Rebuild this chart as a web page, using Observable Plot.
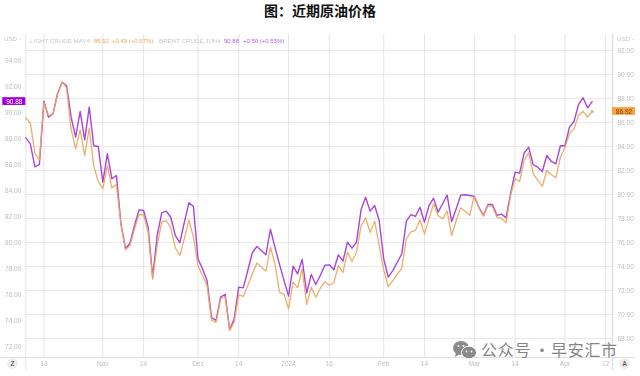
<!DOCTYPE html>
<html><head><meta charset="utf-8">
<script src="https://cdn.jsdelivr.net/npm/d3@7"></script>
<script src="https://cdn.jsdelivr.net/npm/@observablehq/plot@0.6"></script>
<style>
html,body{margin:0;padding:0;background:#fff;width:640px;height:376px;overflow:hidden;position:relative}
#title{height:34px;text-align:center;font:700 14px/21px "Noto Sans CJK SC",sans-serif;color:#111}
#chart svg{filter:blur(.35px)}
.lg{position:absolute;top:37px;font:6.2px/8px "Liberation Sans",sans-serif;white-space:nowrap;color:#c8c8c8;filter:blur(.3px)}
.num{font-size:6px}
.wm{position:absolute;top:341px;font:16px/16px "Noto Sans CJK SC",sans-serif;color:#858585;letter-spacing:.7px;white-space:nowrap;text-shadow:0 0 2px #fff}
#icon{position:absolute;left:452px;top:340px}
.chip{position:absolute;top:358px;width:11px;height:11px;border-radius:50%;background:#eeeeee;font:700 6.5px/11px "Liberation Sans",sans-serif;color:#666;text-align:center}
svg{display:block}
</style></head><body>
<div id="title">图：近期原油价格</div>
<div id="chart"></div>
<span class="lg" style="left:30px">LIGHT CRUDE MAY4</span>
<span class="lg num" style="left:94px;color:#eda65c">86.92</span>
<span class="lg num" style="left:112px;color:#eda65c">+0.49 (+0.57%)</span>
<span class="lg" style="left:159px">BRENT CRUDE JUN4</span>
<span class="lg num" style="left:224px;color:#b25fe0">90.88</span>
<span class="lg num" style="left:243px;color:#b25fe0">+0.50 (+0.55%)</span>
<span class="lg" style="left:4px;top:35px;color:#c4c4c4">USD -</span>
<span class="lg" style="left:617px;top:35px;color:#c4c4c4">USD -</span>
<div class="chip" style="left:7px">Z</div>
<div class="chip" style="left:619px">A</div>
<svg id="icon" width="26" height="20" viewBox="0 0 26 20"><ellipse cx="9" cy="8" rx="8" ry="7" fill="#8a8a8a"/><path d="M4 12l-1 5 5-3z" fill="#8a8a8a"/><ellipse cx="17" cy="12.5" rx="7.5" ry="6.3" fill="#8a8a8a" stroke="#fff"/><circle cx="6.5" cy="6" r="1" fill="#fff"/><circle cx="11.5" cy="6" r="1" fill="#fff"/><circle cx="14.5" cy="11.5" r=".9" fill="#fff"/><circle cx="19.5" cy="11.5" r=".9" fill="#fff"/></svg>
<div class="wm" style="left:481px">公众号</div>
<div class="wm" style="left:534px">·</div>
<div class="wm" style="left:551px">早安汇市</div>
<script>
const brent = [88.09,87.63,85.86,86.04,90.91,89.68,89.94,91.48,92.37,92.12,89.68,88.14,90.12,87.94,90.45,87.48,87.42,84.68,86.86,84.94,85.19,81.5,79.58,79.98,81.35,82.55,82.5,81.22,77.37,80.58,82.32,82.45,81.98,80.58,80.02,81.6,83.09,82.83,78.78,78.02,77.12,74.25,74.04,75.83,76.04,73.32,74.17,76.6,76.55,77.88,79.25,79.73,79.42,79.09,81.04,79.68,78.35,77.12,75.91,78.22,77.63,78.75,76.14,77.58,76.81,77.5,78.29,78.32,77.94,79.09,78.6,80.06,79.6,80.06,82.55,83.52,82.45,82.88,81.73,78.78,77.37,77.88,78.52,79.17,81.68,82.19,82.04,82.75,81.6,82.88,83.45,82.37,83.02,83.68,81.65,82.63,83.68,83.71,83.65,83.58,82.75,82.12,82.96,82.96,82.12,82.22,81.94,83.78,85.45,85.37,86.91,87.37,86.02,85.83,85.5,86.73,86.27,86.09,87.48,87.48,88.91,89.35,90.65,91.17,90.4,90.88];
const wti = [86.39,85.97,83.44,82.89,87.69,86.58,86.67,88.33,89.36,88.89,85.47,83.81,85.39,83.25,85.52,82.36,81.08,80.47,82.42,80.56,80.83,77.5,75.39,75.75,77.14,78.31,78.31,76.86,72.94,75.75,77.69,77.83,77.22,75.56,74.92,76.31,77.89,76.44,74.08,73.25,72.42,69.5,69.36,71.31,71.44,68.67,69.36,71.64,71.5,72.42,73.39,74.28,73.94,73.61,75.61,74.22,71.86,71.67,70.47,72.69,72.22,73.81,70.83,72.28,71.44,72.19,72.72,72.44,72.67,74.08,73.5,75.19,74.42,75.19,77.36,78.06,76.83,77.78,75.75,73.72,72.33,72.83,73.33,73.89,76.31,76.89,77,77.89,76.72,77.97,79.22,78.25,77.97,78.61,76.58,77.83,78.89,78.58,78.27,79.92,78.89,78.19,79.08,79,78.11,78,77.64,79.92,81.31,81.08,82.83,83.47,81.72,81.17,80.69,82,81.64,81.39,83.11,83.89,85.11,85.47,86.58,86.94,86.44,86.92];
const xTickDays = [4,17,26,38,47,58,67,79,88,99,108,119,128];
const xTickLabels = ["13","Nov","14","Dec","14","2024","16","Feb","14","Mar","14","Apr","12"];
const leftTicks = [72,74,76,78,80,82,84,86,88,90,92,94];
const rightTicks = [68,70,72,74,76,78,80,82,84,86,88,90,92];
const xDomain = [0,129.5], yDomain = [71.19,96.04];
const toLeft = w => 94 - (12*(92-w) - 10.5)/13;
const grey = "#bcbcbc", grid = "#e8e8ee";
const days = brent.map((_,i)=>i);
const lastB = brent[brent.length-1], lastW = wti[wti.length-1];
const plot = Plot.plot({
  width:640, height:342, marginLeft:25.3, marginRight:28, marginTop:0, marginBottom:19,
  style:{background:"#fff",fontFamily:"Liberation Sans, sans-serif"},
  x:{domain:xDomain,axis:null}, y:{domain:yDomain,axis:null},
  marks:[
    Plot.ruleY(rightTicks,{y:toLeft,stroke:grid,strokeWidth:1}),
    Plot.ruleX(xTickDays,{stroke:"#e4e4ea",strokeWidth:1}),
    Plot.ruleY([yDomain[0]],{stroke:"#e0e0e0",strokeWidth:1.2,insetLeft:-25,insetRight:-23}),
    Plot.ruleX([xDomain[0]],{stroke:"#e4e4ea",strokeWidth:1,insetBottom:-13}),
    Plot.ruleX([xDomain[1]],{stroke:"#e0e0e4",strokeWidth:1.5,insetBottom:-13}),
    Plot.axisY(leftTicks,{anchor:"left",tickSize:0,tickPadding:4.5,fontSize:6.5,color:grey,label:null,tickFormat:d=>d.toFixed(2)}),
    Plot.axisY(rightTicks,{anchor:"right",y:toLeft,tickSize:0,tickPadding:5,fontSize:6.5,color:grey,label:null,tickFormat:d=>d.toFixed(2)}),
    Plot.axisX(xTickDays,{tickSize:0,tickPadding:3.5,fontSize:6.5,color:grey,label:null,tickFormat:d=>xTickLabels[xTickDays.indexOf(d)]}),
    Plot.line(days,{x:d=>d,y:d=>brent[d],stroke:"#a845dc",strokeWidth:1.4}),
    Plot.line(days,{x:d=>d,y:d=>toLeft(wti[d]),stroke:"#eda65c",strokeWidth:1.3,strokeOpacity:0.92}),
    Plot.dot([days[days.length-1]],{x:d=>d,y:d=>toLeft(wti[d]),r:1.5,fill:"#eda65c"}),
    Plot.rect([lastB],{x1:()=>xDomain[0],x2:()=>xDomain[0],y1:d=>d-0.3,y2:d=>d+0.3,insetLeft:-23,fill:"#a000e0"}),
    Plot.text([lastB],{x:()=>xDomain[0],y:d=>d,dx:-11.5,text:d=>d.toFixed(2),fill:"#fff",fontSize:6.5}),
    Plot.rect([lastW],{x1:()=>xDomain[1],x2:()=>xDomain[1],y1:d=>toLeft(d)-0.3,y2:d=>toLeft(d)+0.3,insetRight:-23,fill:"#f9a33f"}),
    Plot.text([lastW],{x:()=>xDomain[1],y:d=>toLeft(d),dx:11.5,text:d=>d.toFixed(2),fill:"#6d4410",fontSize:6.5})
  ]
});
document.getElementById("chart").appendChild(plot);
</script>
</body></html>
